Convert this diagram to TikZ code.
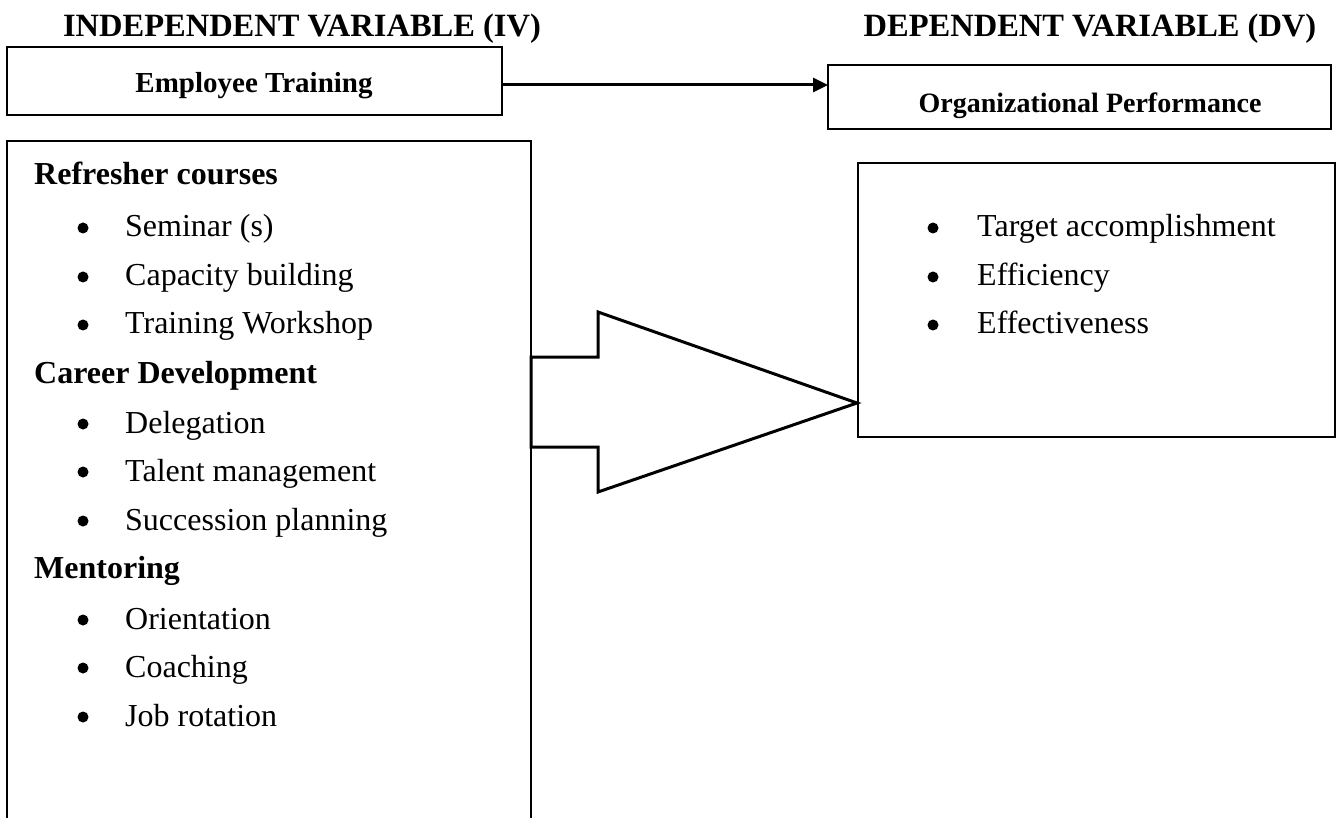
\documentclass[tikz,border=0pt]{standalone}
\usepackage{fontspec}
\setmainfont{Liberation Serif}
\usetikzlibrary{arrows.meta}
\begin{document}
\begin{tikzpicture}[x=1pt,y=-1pt,
  box/.style={draw,line width=1.6pt,inner sep=0pt},
  head/.style={font=\fontsize{32.5}{38}\selectfont\bfseries,anchor=base,inner sep=0pt},
  ttl/.style={font=\fontsize{29}{32}\selectfont\bfseries,anchor=base,inner sep=0pt},
  sub/.style={font=\fontsize{32}{38}\selectfont\bfseries,anchor=base west,inner sep=0pt},
  itm/.style={font=\fontsize{32}{38}\selectfont,anchor=base west,inner sep=0pt},
  bul/.style={circle,fill,inner sep=0pt,minimum size=11pt},
  conn/.style={line width=3pt,-{Triangle[length=15pt,width=14pt]}},
  bigarrow/.style={draw,line width=3pt,line join=miter,fill=white}]
\useasboundingbox (0,0) rectangle (1336,818);
\begin{scope}
\clip (0,0) rectangle (1336,818);
% headings
\node[head] (hiv) at (302,37) {INDEPENDENT VARIABLE (IV)};
\node[head] (hdv) at (1090,37) {DEPENDENT VARIABLE (DV)};
% title boxes
\draw[box] (7,47) rectangle (502,115);
\node[ttl] (et) at (254,93) {Employee Training};
\coordinate (etE) at (502,85);
\draw[box] (828,65) rectangle (1331,129);
\node[ttl,font=\fontsize{28}{32}\selectfont\bfseries] (op) at (1090,113) {Organizational Performance};
\coordinate (opW) at (828,85);
\draw[conn] (etE) -- (opW);
% left box
\draw[box] (7,141) rectangle (531,840);
\node[sub] (s1) at (34,185) {Refresher courses};
\node[sub] (s2) at (34,383) {Career Development};
\node[sub] (s3) at (34,578) {Mentoring};
\foreach \y/\t [count=\i] in {237/Seminar (s),286/Capacity building,334/Training Workshop,433/Delegation,481/Talent management,530/Succession planning,629/Orientation,677/Coaching,726/Job rotation}{
  \node[bul] (lb\i) at (83,\y-9) {};
  \node[itm] (li\i) at (125,\y) {\t};
}
% right box
\draw[box] (858,163) rectangle (1335,437);
\foreach \y/\t [count=\i] in {237/Target accomplishment,286/Efficiency,334/Effectiveness}{
  \node[bul] (rb\i) at (933,\y-9) {};
  \node[itm] (ri\i) at (977,\y) {\t};
}
% big arrow
\draw[bigarrow] (531,357) -- (598,357) -- (598,312) -- (857,403) -- (598,492) -- (598,447) -- (531,447) -- cycle;
\end{scope}
\end{tikzpicture}
\end{document}
